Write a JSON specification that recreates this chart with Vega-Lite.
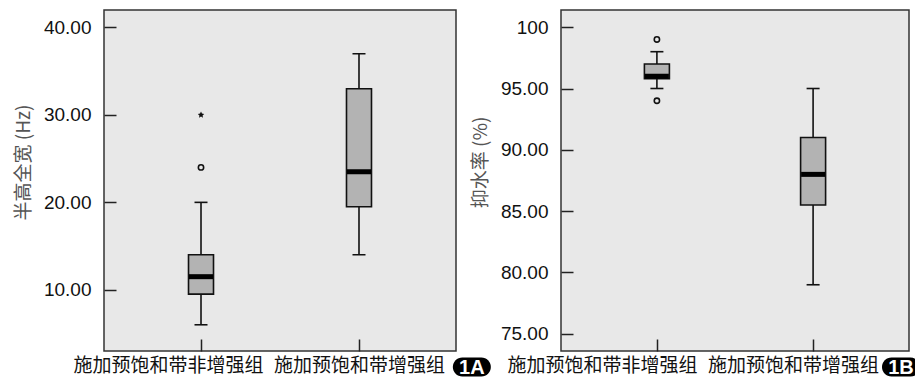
{
  "$schema": "https://vega.github.io/schema/vega-lite/v6.json",
  "background": "white",
  "padding": {"left": 13, "top": 9, "right": 0, "bottom": 0},
  "config": {
    "view": {"fill": "#e8e8e8", "stroke": "#333", "strokeWidth": 1.5},
    "axis": {"grid": false, "domain": false, "tickColor": "#222", "tickWidth": 1.5, "tickOpacity": 1}
  },
  "datasets": {
    "boxA": [
      {"group": "施加预饱和带非增强组", "lo": 6, "q1": 9.5, "med": 11.5, "q3": 14, "hi": 20},
      {"group": "施加预饱和带增强组", "lo": 14, "q1": 19.5, "med": 23.5, "q3": 33, "hi": 37}
    ],
    "outA": [
      {"group": "施加预饱和带非增强组", "value": 24, "kind": "circle"},
      {"group": "施加预饱和带非增强组", "value": 30, "kind": "star"}
    ],
    "boxB": [
      {"group": "施加预饱和带非增强组", "lo": 95, "q1": 95.8, "med": 96, "q3": 97, "hi": 98},
      {"group": "施加预饱和带增强组", "lo": 79, "q1": 85.5, "med": 88, "q3": 91, "hi": 95}
    ],
    "outB": [
      {"group": "施加预饱和带非增强组", "value": 99, "kind": "circle"},
      {"group": "施加预饱和带非增强组", "value": 94, "kind": "circle"}
    ],
    "badgeA": [{"label": "1A"}],
    "badgeB": [{"label": "1B"}]
  },
  "hconcat": [
    {
      "width": 352,
      "height": 341,
      "layer": [
        {
          "data": {"name": "boxA"},
          "encoding": {
            "x": {"field": "group", "type": "nominal", "sort": null,
              "scale": {"type": "point", "padding": 0.614},
              "axis": {"title": null, "labelAngle": 0, "tickSize": -12, "labelPadding": 17, "labelLimit": 0,
                "labelFont": "Noto Sans CJK SC", "labelFontSize": 19, "labelColor": "#111",
                "labelOffset": {"expr": "datum.index == 0 ? -33 : 0"}}}
          },
          "layer": [
            {"mark": {"type": "rule", "stroke": "#111", "strokeWidth": 1.6, "opacity": 1},
             "encoding": {
               "y": {"field": "lo", "type": "quantitative",
                 "scale": {"domain": [3, 42], "nice": false, "zero": false},
                 "axis": {"title": "半高全宽 (Hz)", "values": [10, 20, 30, 40], "format": ".2f",
                   "tickSize": -12, "labelPadding": 25, "labelFont": "Liberation Sans",
                   "labelFontSize": 19, "labelColor": "#111", "titleFont": "Noto Sans CJK SC",
                   "titleFontSize": 19, "titleFontWeight": "normal", "titleColor": "#555",
                   "titlePadding": 10, "titleY": 152}},
               "y2": {"field": "hi"}}},
            {"mark": {"type": "tick", "color": "#111", "size": 13, "thickness": 1.6, "opacity": 1},
             "encoding": {"y": {"field": "lo", "type": "quantitative"}}},
            {"mark": {"type": "tick", "color": "#111", "size": 13, "thickness": 1.6, "opacity": 1},
             "encoding": {"y": {"field": "hi", "type": "quantitative"}}},
            {"mark": {"type": "bar", "width": 25, "fill": "#b3b3b3", "stroke": "#111", "strokeWidth": 1.6, "opacity": 1},
             "encoding": {"y": {"field": "q1", "type": "quantitative"}, "y2": {"field": "q3"}}},
            {"mark": {"type": "tick", "color": "#000", "size": 24, "thickness": 5, "opacity": 1},
             "encoding": {"y": {"field": "med", "type": "quantitative"}}},
            {"data": {"name": "outA"},
             "transform": [{"filter": "datum.kind == 'circle'"}],
             "mark": {"type": "point", "shape": "circle", "size": 28, "stroke": "#111", "strokeWidth": 1.6, "filled": false, "opacity": 1},
             "encoding": {"y": {"field": "value", "type": "quantitative"}}},
            {"data": {"name": "outA"},
             "transform": [{"filter": "datum.kind == 'star'"}],
             "mark": {"type": "point", "shape": "M0,-1L0.29,-0.4L0.95,-0.31L0.47,0.15L0.59,0.81L0,0.5L-0.59,0.81L-0.47,0.15L-0.95,-0.31L-0.29,-0.4Z", "size": 45, "fill": "#111", "filled": true, "opacity": 1},
             "encoding": {"y": {"field": "value", "type": "quantitative"}}}
          ]
        },
        {
          "data": {"name": "badgeA"},
          "encoding": {
            "x": {"datum": 1.045, "type": "quantitative", "scale": {"domain": [0, 1], "nice": false, "zero": false}, "axis": null},
            "y": {"datum": -0.047, "type": "quantitative", "scale": {"domain": [0, 1], "nice": false, "zero": false}, "axis": null}
          },
          "layer": [
            {"mark": {"type": "point", "shape": "M-0.5,-0.5L0.5,-0.5A0.5,0.5 0 0 1 0.5,0.5L-0.5,0.5A0.5,0.5 0 0 1 -0.5,-0.5Z", "size": 1444, "filled": true, "fill": "#000", "opacity": 1, "strokeWidth": 0}},
            {"mark": {"type": "text", "font": "Liberation Sans", "fontSize": 20, "fontWeight": "bold", "fill": "#fff", "align": "center", "baseline": "middle", "dy": 1},
             "encoding": {"text": {"field": "label"}}}
          ]
        }
      ],
      "resolve": {"scale": {"x": "independent", "y": "independent"}, "axis": {"x": "independent", "y": "independent"}}
    },
    {
      "width": 348,
      "height": 341,
      "layer": [
        {
          "data": {"name": "boxB"},
          "encoding": {
            "x": {"field": "group", "type": "nominal", "sort": null,
              "scale": {"type": "point", "padding": 0.614},
              "axis": {"title": null, "labelAngle": 0, "tickSize": -12, "labelPadding": 17, "labelLimit": 0,
                "labelFont": "Noto Sans CJK SC", "labelFontSize": 19, "labelColor": "#111",
                "labelOffset": {"expr": "datum.index == 0 ? -55 : -20"}}}
          },
          "layer": [
            {"mark": {"type": "rule", "stroke": "#111", "strokeWidth": 1.6, "opacity": 1},
             "encoding": {
               "y": {"field": "lo", "type": "quantitative",
                 "scale": {"domain": [73.6, 101.4], "nice": false, "zero": false},
                 "axis": {"title": "抑水率 (%)", "values": [75, 80, 85, 90, 95, 100],
                   "labelExpr": "datum.value == 100 ? '100' : format(datum.value, '.2f')",
                   "tickSize": -12, "labelPadding": 25, "labelFont": "Liberation Sans",
                   "labelFontSize": 19, "labelColor": "#111", "titleFont": "Noto Sans CJK SC",
                   "titleFontSize": 19, "titleFontWeight": "normal", "titleColor": "#555",
                   "titlePadding": 10, "titleY": 152}},
               "y2": {"field": "hi"}}},
            {"mark": {"type": "tick", "color": "#111", "size": 13, "thickness": 1.6, "opacity": 1},
             "encoding": {"y": {"field": "lo", "type": "quantitative"}}},
            {"mark": {"type": "tick", "color": "#111", "size": 13, "thickness": 1.6, "opacity": 1},
             "encoding": {"y": {"field": "hi", "type": "quantitative"}}},
            {"mark": {"type": "bar", "width": 25, "fill": "#b3b3b3", "stroke": "#111", "strokeWidth": 1.6, "opacity": 1},
             "encoding": {"y": {"field": "q1", "type": "quantitative"}, "y2": {"field": "q3"}}},
            {"mark": {"type": "tick", "color": "#000", "size": 24, "thickness": 5, "opacity": 1},
             "encoding": {"y": {"field": "med", "type": "quantitative"}}},
            {"data": {"name": "outB"},
             "mark": {"type": "point", "shape": "circle", "size": 28, "stroke": "#111", "strokeWidth": 1.6, "filled": false, "opacity": 1},
             "encoding": {"y": {"field": "value", "type": "quantitative"}}}
          ]
        },
        {
          "data": {"name": "badgeB"},
          "encoding": {
            "x": {"datum": 0.977, "type": "quantitative", "scale": {"domain": [0, 1], "nice": false, "zero": false}, "axis": null},
            "y": {"datum": -0.047, "type": "quantitative", "scale": {"domain": [0, 1], "nice": false, "zero": false}, "axis": null}
          },
          "layer": [
            {"mark": {"type": "point", "shape": "M-0.5,-0.5L0.5,-0.5A0.5,0.5 0 0 1 0.5,0.5L-0.5,0.5A0.5,0.5 0 0 1 -0.5,-0.5Z", "size": 1444, "filled": true, "fill": "#000", "opacity": 1, "strokeWidth": 0}},
            {"mark": {"type": "text", "font": "Liberation Sans", "fontSize": 20, "fontWeight": "bold", "fill": "#fff", "align": "center", "baseline": "middle", "dy": 1},
             "encoding": {"text": {"field": "label"}}}
          ]
        }
      ],
      "resolve": {"scale": {"x": "independent", "y": "independent"}, "axis": {"x": "independent", "y": "independent"}}
    }
  ],
  "spacing": 105,
  "bounds": "flush"
}
